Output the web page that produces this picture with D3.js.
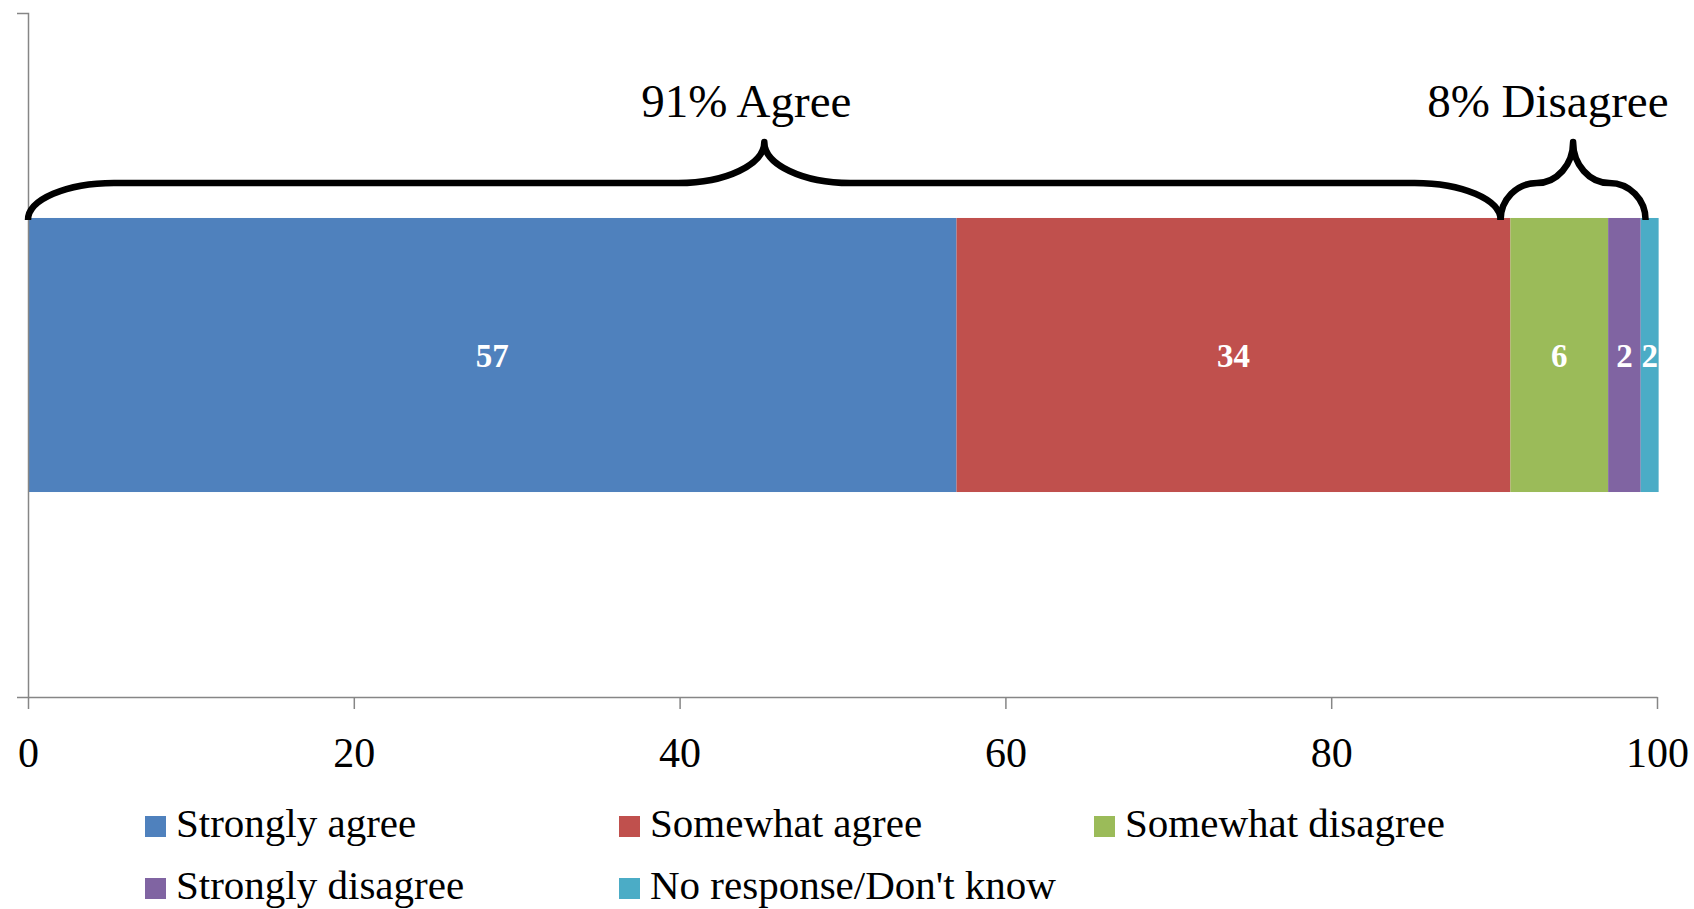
<!DOCTYPE html>
<html>
<head>
<meta charset="utf-8">
<script src="https://cdn.jsdelivr.net/npm/d3@7"></script>
<style>
  html, body { margin: 0; padding: 0; background: #fff; }
  svg { display: block; }
  text { font-family: "Liberation Serif", "DejaVu Serif", serif; }
</style>
</head>
<body>
<svg id="chart" width="1694" height="909"></svg>
<script>
// ---- data ----
const categories = ["Strongly agree", "Somewhat agree", "Somewhat disagree", "Strongly disagree", "No response/Don't know"];
const values = [57, 34, 6, 2, 1.1];
const valueLabels = ["57", "34", "6", "2", "2"];
const colors = ["#4F81BD", "#C0504D", "#9BBB59", "#8064A2", "#4BACC6"];
const xTicks = [0, 20, 40, 60, 80, 100];
const braceLabels = ["91% Agree", "8% Disagree"];
const braceFrom = [0, 90.4];
const braceTo = [90.4, 99.3];
const braceLabelAt = [44.1, 93.3];
const rowName = [""];

// ---- layout ----
const svg = d3.select("#chart");
const x = d3.scaleLinear().domain([0, 100]).range([28, 1657]);
const y = d3.scaleBand().domain(rowName).range([13, 697]).paddingInner(0).paddingOuter(0.748);

let cum = 0;
const segs = values.map((v, i) => {
  const s = { name: categories[i], v, x0: cum, x1: cum + v, label: valueLabels[i], color: colors[i] };
  cum += v;
  return s;
});

// bars
svg.append("g").selectAll("rect").data(segs).join("rect")
  .attr("x", d => x(d.x0))
  .attr("y", y(""))
  .attr("width", d => x(d.x1) - x(d.x0))
  .attr("height", y.bandwidth())
  .attr("fill", d => d.color);

// bar labels
svg.append("g").selectAll("text").data(segs).join("text")
  .attr("x", d => (x(d.x0) + x(d.x1)) / 2)
  .attr("y", y("") + y.bandwidth() / 2 + 12)
  .attr("text-anchor", "middle")
  .attr("fill", "#fff")
  .attr("font-weight", "bold")
  .attr("font-size", 33)
  .text(d => d.label);

// x axis
const xAxis = svg.append("g")
  .attr("transform", `translate(0,697)`)
  .call(d3.axisBottom(x).tickValues(xTicks).tickSize(12).tickSizeOuter(0).tickFormat(d3.format("d")));
xAxis.select(".domain").attr("stroke", "#868686").attr("stroke-width", 1.5);
xAxis.selectAll(".tick line").attr("stroke", "#868686").attr("stroke-width", 1.5);
xAxis.selectAll(".tick text")
  .attr("y", 70).attr("dy", 0)
  .attr("fill", "#000")
  .attr("font-size", 42)
  .style("font-family", "'Liberation Serif', serif");

// y axis (outer ticks only)
const yAxis = svg.append("g")
  .attr("transform", `translate(28,0)`)
  .call(d3.axisLeft(y).tickValues([]).tickSizeOuter(11));
yAxis.select(".domain").attr("stroke", "#868686").attr("stroke-width", 1.5);

// braces
const yb = 220, ym = 183, yt = 142;
function bracePath(a, b) {
  const x1 = x(a), x2 = x(b), xm = (x1 + x2) / 2;
  const q = Math.min(86, (x2 - x1) / 4);
  const k = 0.552;
  const p = d3.path();
  p.moveTo(x1, yb);
  p.bezierCurveTo(x1, yb - (yb - ym) * k, x1 + q * (1 - k), ym, x1 + q, ym);
  p.lineTo(xm - q, ym);
  p.bezierCurveTo(xm - q * (1 - k), ym, xm, yt + (ym - yt) * k, xm, yt);
  p.bezierCurveTo(xm, yt + (ym - yt) * k, xm + q * (1 - k), ym, xm + q, ym);
  p.lineTo(x2 - q, ym);
  p.bezierCurveTo(x2 - q * (1 - k), ym, x2, yb - (yb - ym) * k, x2, yb);
  return p.toString();
}
const braces = braceLabels.map((l, i) => ({ label: l, a: braceFrom[i], b: braceTo[i], at: braceLabelAt[i] }));
svg.append("g").selectAll("path").data(braces).join("path")
  .attr("d", d => bracePath(d.a, d.b))
  .attr("fill", "none")
  .attr("stroke", "#000")
  .attr("stroke-width", 6.5)
  .attr("stroke-linejoin", "round");
svg.append("g").selectAll("text").data(braces).join("text")
  .attr("x", d => x(d.at))
  .attr("y", 117)
  .attr("text-anchor", "middle")
  .attr("font-size", 47)
  .attr("fill", "#000")
  .text(d => d.label);

// legend
const legCols = [145, 619, 1094];
const legRows = [837, 899];
const leg = svg.append("g").selectAll("g").data(categories).join("g")
  .attr("transform", (d, i) => `translate(${legCols[i % 3]},${legRows[Math.floor(i / 3)]})`);
leg.append("rect").attr("x", 0).attr("y", -21).attr("width", 21).attr("height", 21)
  .attr("fill", (d, i) => colors[i]);
leg.append("text").attr("x", 31).attr("y", 0)
  .attr("font-size", 41).attr("fill", "#000")
  .text(d => d);
</script>
</body>
</html>
